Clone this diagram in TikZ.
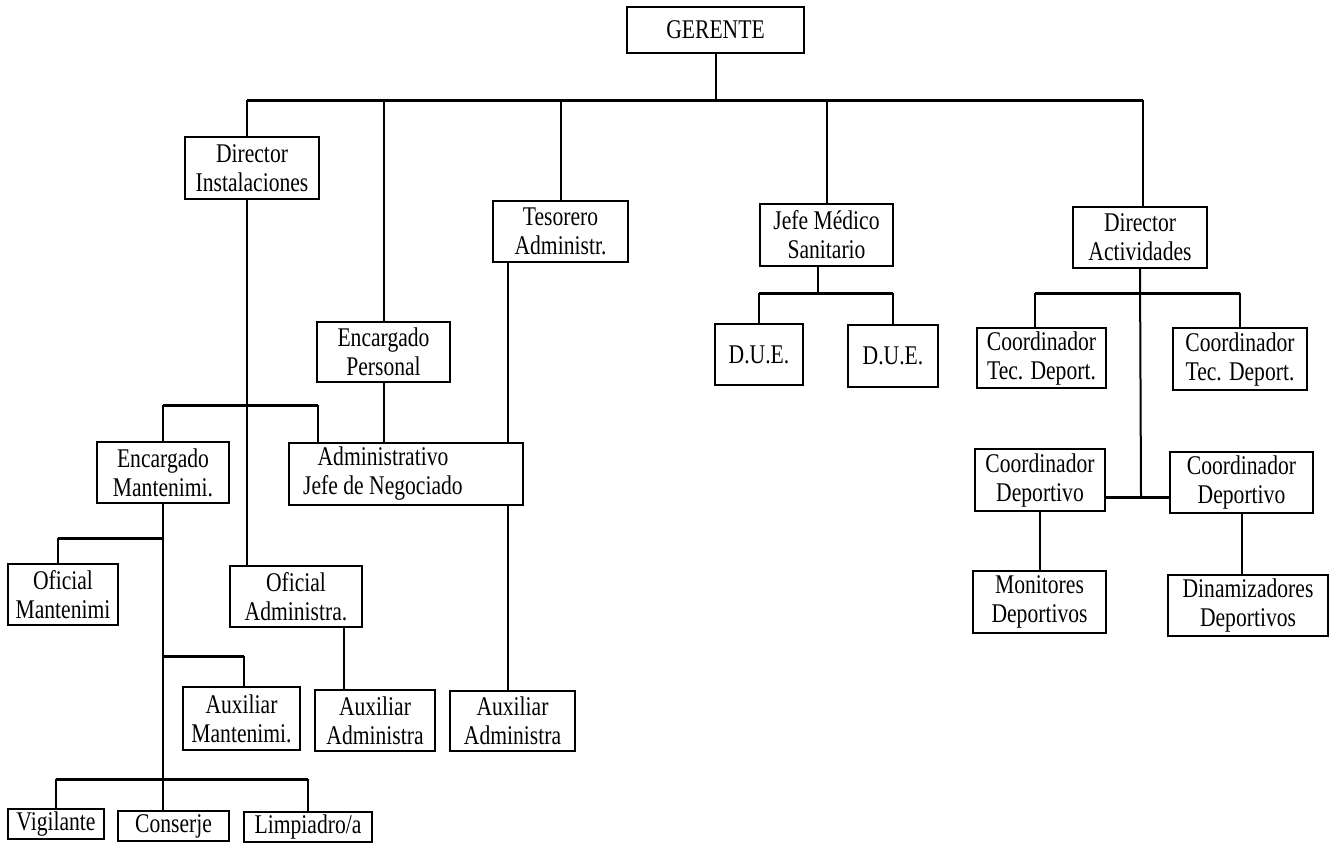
\documentclass[tikz,border=0pt]{standalone}
\usepackage{fontspec}
\setmainfont{Liberation Serif}[FakeStretch=0.8]
\tikzset{mybox/.style={draw,line width=1pt,inner sep=0pt,align=center,
  font=\fontsize{13.5}{14.5}\selectfont},
mybar/.style={line width=1.5pt},
myline/.style={line width=1pt}}

\begin{document}
\begin{tikzpicture}[x=0.5pt,y=-0.5pt]
\useasboundingbox (0,0) rectangle (1332,843);
% puestos
\node[mybox,minimum width=88.5pt,minimum height=23pt] (gerente) at (715.5,30) {GERENTE};
\node[mybox,minimum width=67pt,minimum height=31pt] (dirinst) at (252,168) {Director\\Instalaciones};
\node[mybox,minimum width=66.5pt,minimum height=30pt] (encper) at (383.5,352) {Encargado\\Personal};
\node[mybox,minimum width=67.5pt,minimum height=30.5pt] (tesor) at (560.5,231.5) {Tesorero\\Administr.};
\node[mybox,minimum width=66.5pt,minimum height=31pt] (jefemed) at (826.5,235) {Jefe Médico\\Sanitario};
\node[mybox,minimum width=67pt,minimum height=30.5pt] (diract) at (1140,237.5) {Director\\Actividades};
\node[mybox,minimum width=44pt,minimum height=30.5pt] (due1) at (759,354.5) {D.U.E.};
\node[mybox,minimum width=45pt,minimum height=31pt] (due2) at (893,356) {D.U.E.};
\node[mybox,minimum width=64.5pt,minimum height=30pt] (tec1) at (1041.5,358) {Coordinador\\Tec. Deport.};
\node[mybox,minimum width=67pt,minimum height=31pt] (tec2) at (1240,359) {Coordinador\\Tec. Deport.};
\node[mybox,minimum width=66pt,minimum height=30.5pt] (encman) at (163,472.5) {Encargado\\Mantenimi.};
\node[mybox,minimum width=117pt,minimum height=31pt] (admin) at (406,474) {};
\node[align=center,inner sep=0pt,font=\fontsize{13.5}{14.5}\selectfont] (admintxt) at (383,474) {Administrativo\\Jefe de Negociado};
\node[mybox,minimum width=66pt,minimum height=30.5pt] (ofadm) at (296,596.5) {Oficial\\Administra.};
\node[mybox,minimum width=55pt,minimum height=30.5pt] (ofman) at (63,594.5) {Oficial\\Mantenimi};
\node[mybox,minimum width=58.5pt,minimum height=31.5pt] (auxman) at (241.5,718.5) {Auxiliar\\Mantenimi.};
\node[mybox,minimum width=60pt,minimum height=30.5pt] (auxadm1) at (375,720.5) {Auxiliar\\Administra};
\node[mybox,minimum width=62.5pt,minimum height=30pt] (auxadm2) at (512.5,721) {Auxiliar\\Administra};
\node[mybox,minimum width=48pt,minimum height=15pt] (vigil) at (56,824) {Vigilante};
\node[mybox,minimum width=55.5pt,minimum height=15pt] (consj) at (173.5,826) {Conserje};
\node[mybox,minimum width=64pt,minimum height=15pt] (limp) at (308,827) {Limpiadro/a};
\node[mybox,minimum width=65pt,minimum height=31pt] (coordep1) at (1040,480) {Coordinador\\Deportivo};
\node[mybox,minimum width=71.5pt,minimum height=30.5pt] (coordep2) at (1241.5,482.5) {Coordinador\\Deportivo};
\node[mybox,minimum width=66.5pt,minimum height=31pt] (monit) at (1039.5,602) {Monitores\\Deportivos};
\node[mybox,minimum width=80pt,minimum height=30.5pt] (dinam) at (1248,605.5) {Dinamizadores\\Deportivos};
% lineas principales
\coordinate (busL) at (247,100);
\coordinate (busR) at (1143,100);
\draw[mybar] (busL) -- (busR);
\draw[myline] (gerente.south) -- (gerente.south |- busL);
\draw[myline] (busL) -- (busL |- dirinst.north);
\draw[myline] (encper.north |- busL) -- (encper.north);
\draw[myline] (tesor.north |- busL) -- (tesor.north);
\draw[myline] (jefemed.north |- busL) -- (jefemed.north);
\draw[myline] (busR) -- (busR |- diract.north);
% instalaciones
\coordinate (ibar) at (318,405);
\draw[myline] (busL |- dirinst.south) -- (busL |- ofadm.north);
\draw[mybar] (encman.north |- ibar) -- (ibar);
\draw[myline] (encman.north) -- (encman.north |- ibar);
\draw[myline] (ibar) -- (ibar |- admin.north);
\draw[myline] (encper.south) -- (encper.south |- admin.north);
\coordinate (tx) at (508,0);
\draw[myline] (tesor.south -| tx) -- (admin.north -| tx);
\draw[myline] (admin.south -| tx) -- (auxadm2.north -| tx);
\coordinate (ox) at (344,0);
\draw[myline] (ofadm.south -| ox) -- (auxadm1.north -| ox);
% mantenimiento
\coordinate (mbar1) at (58,538);
\coordinate (mbar2) at (244,656);
\coordinate (mbar3) at (0,779);
\draw[myline] (encman.south) -- (encman.south |- consj.north);
\draw[mybar] (encman.south |- mbar1) -- (mbar1);
\draw[myline] (mbar1) -- (mbar1 |- ofman.north);
\draw[mybar] (encman.south |- mbar2) -- (mbar2);
\draw[myline] (mbar2) -- (mbar2 |- auxman.north);
\draw[mybar] (vigil.north |- mbar3) -- (limp.north |- mbar3);
\draw[myline] (vigil.north |- mbar3) -- (vigil.north);
\draw[myline] (limp.north |- mbar3) -- (limp.north);
% medico
\coordinate (medbar) at (818,293);
\draw[myline] (jefemed.south -| medbar) -- (medbar);
\draw[mybar] (due1.north |- medbar) -- (due2.north |- medbar);
\draw[myline] (due1.north |- medbar) -- (due1.north);
\draw[myline] (due2.north |- medbar) -- (due2.north);
% actividades
\coordinate (tbar) at (1035,293);
\coordinate (depJ) at (1141,497);
\draw[mybar] (tbar) -- (tec2.north |- tbar);
\draw[myline] (tbar) -- (tbar |- tec1.north);
\draw[myline] (tec2.north |- tbar) -- (tec2.north);
\draw[myline] (diract.south) -- (depJ);
\draw[mybar] (coordep1.east |- depJ) -- (coordep2.west |- depJ);
\draw[myline] (coordep1.south) -- (coordep1.south |- monit.north);
\draw[myline] (coordep2.south) -- (coordep2.south |- dinam.north);
\end{tikzpicture}
\end{document}
